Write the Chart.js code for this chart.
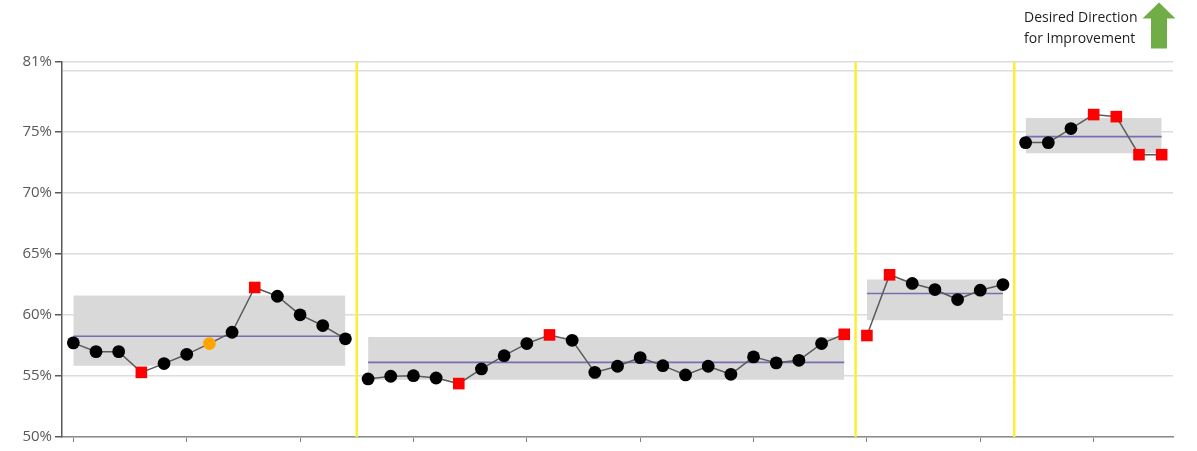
<!DOCTYPE html>
<html><head><meta charset="utf-8">
<script src="https://cdn.jsdelivr.net/npm/chart.js@4/dist/chart.umd.min.js"></script>
<style>html,body{margin:0;padding:0;background:#fff;}canvas{display:block;}</style>
</head><body>
<canvas id="c" width="1197" height="451"></canvas>
<script>
// ---- data (percent) ----
const values = [
  57.72, 57.00, 57.00, 55.30, 56.02, 56.78, 57.66, 58.59, 62.26, 61.54, 60.02, 59.14, 58.05,
  54.76, 54.98, 55.03, 54.84, 54.38, 55.58, 56.67, 57.66, 58.37, 57.93, 55.30, 55.80, 56.51,
  55.85, 55.09, 55.80, 55.14, 56.57, 56.08, 56.29, 57.66, 58.42,
  58.32, 63.30, 62.59, 62.09, 61.27, 62.04, 62.50,
  74.14, 74.14, 75.29, 76.44, 76.27, 73.15, 73.15
];
// n = normal, s = special-cause (red square), o = warning (orange)
const pointKinds = [
  'n','n','n','s','n','n','o','n','s','n','n','n','n',
  'n','n','n','n','s','n','n','n','s','n','n','n','n',
  'n','n','n','n','n','n','n','n','s',
  's','s','n','n','n','n','n',
  'n','n','n','s','s','s','s'
];
const segStart = [0, 13, 35, 42];
const segEnd   = [12, 34, 41, 48];
const segMean  = [58.26, 56.12, 61.77, 74.63];
const segUpper = [61.60, 58.21, 62.91, 76.16];
const segLower = [55.85, 54.70, 59.57, 73.26];
const phaseBreaks = [12.5, 34.5, 41.5];
const yTickValues = [50, 55, 60, 65, 70, 75, 80, 80.75];
const xTickValues = [0, 5, 10, 15, 20, 25, 30, 35, 40, 45];
const yMin = 50, yMax = 80.75, xMin = -0.5, xMax = 48.5;

// ---- build datasets ----
const datasets = [];
for (let s = 0; s < segStart.length; s++) {
  const a = segStart[s], b = segEnd[s];
  datasets.push({
    label: 'upper' + s, data: [{x: a, y: segUpper[s]}, {x: b, y: segUpper[s]}],
    borderWidth: 0, pointRadius: 0, fill: '+1', backgroundColor: '#d9d9d9', order: 10
  });
  datasets.push({
    label: 'lower' + s, data: [{x: a, y: segLower[s]}, {x: b, y: segLower[s]}],
    borderWidth: 0, pointRadius: 0, fill: false, order: 10
  });
  datasets.push({
    label: 'mean' + s, data: [{x: a, y: segMean[s]}, {x: b, y: segMean[s]}],
    borderWidth: 1.6, borderColor: '#7f6bb0', pointRadius: 0, fill: false, order: 8
  });
  const pts = [], kinds = [];
  for (let i = a; i <= b; i++) { pts.push({x: i, y: values[i]}); kinds.push(pointKinds[i]); }
  datasets.push({
    label: 'seg' + s, data: pts, borderColor: '#5a5a5a', borderWidth: 1.5, tension: 0, fill: false,
    pointStyle: kinds.map(k => k === 's' ? 'rect' : 'circle'),
    pointRadius: kinds.map(k => k === 's' ? 8.2 : 6.4),
    pointBackgroundColor: kinds.map(k => k === 's' ? '#ff0000' : (k === 'o' ? '#ffa500' : '#000000')),
    pointBorderWidth: 0, pointBorderColor: 'rgba(0,0,0,0)', order: 1
  });
}
phaseBreaks.forEach((xb, k) => {
  datasets.push({
    label: 'phase' + k, data: [{x: xb, y: yMin}, {x: xb, y: yMax}],
    borderColor: '#fbef32', borderWidth: 2.5, pointRadius: 0, fill: false, order: 5
  });
});

const annotate = {
  id: 'annotate',
  afterDraw(chart) {
    const ctx = chart.ctx;
    ctx.save();
    ctx.fillStyle = '#1e1e1e';
    ctx.font = '14px "Open Sans", "Noto Sans", sans-serif';
    ctx.textAlign = 'left'; ctx.textBaseline = 'middle';
    ctx.fillText('Desired Direction', 1024, 18);
    ctx.fillText('for Improvement', 1024, 39);
    ctx.fillStyle = '#70ad47';
    ctx.beginPath();
    ctx.moveTo(1159, 2.5);
    ctx.lineTo(1175.5, 18.5);
    ctx.lineTo(1167, 18.5);
    ctx.lineTo(1167, 48.5);
    ctx.lineTo(1151, 48.5);
    ctx.lineTo(1151, 18.5);
    ctx.lineTo(1142.5, 18.5);
    ctx.closePath();
    ctx.fill();
    ctx.restore();
  }
};

new Chart(document.getElementById('c'), {
  type: 'line',
  data: { datasets },
  plugins: [annotate],
  options: {
    responsive: false, animation: false, devicePixelRatio: 1,
    layout: { padding: { top: 62, right: 24, left: 0, bottom: 0 } },
    plugins: { legend: { display: false }, tooltip: { enabled: false }, filler: { propagate: false } },
    scales: {
      x: {
        type: 'linear', min: xMin, max: xMax,
        afterBuildTicks: sc => { sc.ticks = xTickValues.map(v => ({value: v})); },
        afterFit: sc => { sc.height = 14; },
        ticks: { callback: () => '', font: { size: 1 }, padding: 0 },
        grid: { drawOnChartArea: false, drawTicks: true, tickLength: 5, tickColor: '#7f7f7f', tickWidth: 1 },
        border: { display: true, color: '#8c8c8c', width: 1.5 }
      },
      y: {
        type: 'linear', min: yMin, max: yMax,
        afterBuildTicks: sc => { sc.ticks = yTickValues.map(v => ({value: v})); },
        afterFit: sc => { sc.width = 62; },
        ticks: {
          callback: v => (v === 80 ? '' : Math.round(v) + '%'),
          color: '#595959', font: { family: '"Open Sans", "Noto Sans", sans-serif', size: 15 }, padding: 3
        },
        grid: {
          color: '#dcdcdc', lineWidth: 1.5, tickLength: 7,
          tickColor: c => (c.tick && c.tick.value === 80 ? 'rgba(0,0,0,0)' : '#595959')
        },
        border: { display: true, color: '#595959', width: 1.5 }
      }
    }
  }
});
</script>
</body></html>
